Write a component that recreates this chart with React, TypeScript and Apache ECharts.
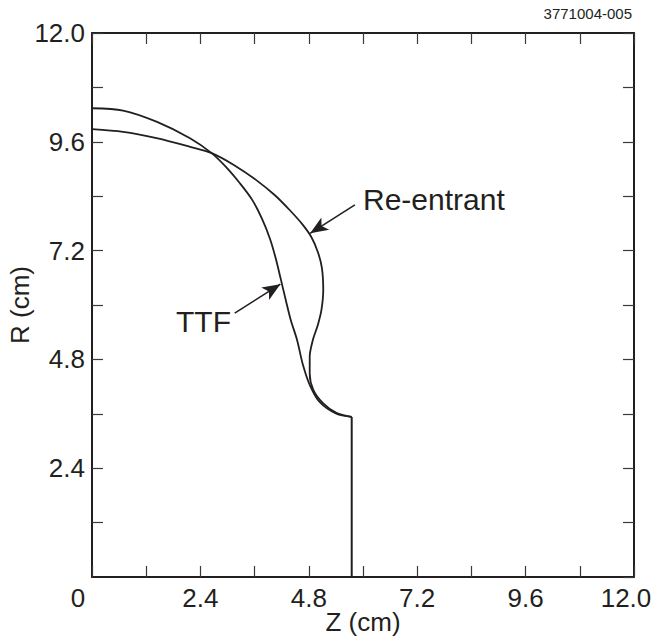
import React, { useEffect, useRef } from "react";
import * as echarts from "echarts";

const ttfZ = [0, 0.69, 1.44, 2.17, 2.65, 2.97, 3.27, 3.54, 3.76, 3.94, 4.07, 4.18, 4.29, 4.4, 4.54, 4.67, 4.82, 5.04, 5.41, 5.75];
const ttfR = [10.34, 10.29, 10.04, 9.68, 9.35, 9.04, 8.69, 8.33, 7.91, 7.46, 7.02, 6.57, 6.11, 5.67, 5.23, 4.68, 4.24, 3.86, 3.6, 3.53];

const reZ = [0, 0.69, 1.43, 2.17, 2.65, 3.14, 3.63, 4.05, 4.38, 4.65, 4.85, 5.0, 5.09, 5.12, 5.08, 5.0, 4.89, 4.82, 4.82, 4.9, 5.12, 5.41, 5.75];
const reR = [9.88, 9.82, 9.68, 9.49, 9.35, 9.09, 8.76, 8.42, 8.09, 7.79, 7.51, 7.17, 6.82, 6.33, 5.89, 5.56, 5.23, 4.86, 4.49, 4.13, 3.83, 3.62, 3.53];

const stemZ = [5.75, 5.75];
const stemR = [3.53, 0];

const axisMin = 0;
const axisMax = 12;
const tickStep = 1.2;

const reArrow = [[5.82, 8.21], [4.83, 7.58]];
const ttfArrow = [[3.16, 5.82], [4.17, 6.46]];

const INK = "#231f20";
const FONT = "Liberation Sans, Arial, sans-serif";

function zip(a: number[], b: number[]) {
  return a.map((v, i) => [v, b[i]]);
}

function fmt(v: number) {
  const r = Math.round(v * 10) / 10;
  const k = Math.round(r / tickStep);
  if (k % 2 !== 0) return "";
  if (r === 0) return "{zero|0}";
  if (r === axisMax) return "{last|" + r.toFixed(1) + "}";
  return r.toFixed(1);
}

export default function App() {
  const ref = useRef<HTMLDivElement>(null);
  useEffect(() => {
    if (!ref.current) return;
    const chart = echarts.init(ref.current, undefined, { renderer: "svg" });
    const tick = { show: true, inside: true, length: 11, interval: 0, lineStyle: { color: "#3a3a3a", width: 1.2 } };
    const baseAxis = {
      type: "value" as const,
      min: axisMin,
      max: axisMax,
      interval: tickStep,
      splitLine: { show: false },
      axisLine: { show: true, onZero: false, lineStyle: { color: INK, width: 2 } },
      axisTick: tick,
    };
    const labelStyle = { color: INK, fontFamily: FONT, fontSize: 26 };
    const arrowLine = (pts: number[][]) => ({
      silent: true,
      symbol: ["none", "arrow"],
      symbolSize: [11, 18],
      lineStyle: { color: INK, width: 1.6, type: "solid" as const },
      label: { show: false },
      data: [[{ coord: pts[0] }, { coord: pts[1] }]],
    });
    const curveStyle = { color: INK, width: 1.8 };
    chart.setOption({
      animation: false,
      backgroundColor: "#ffffff",
      grid: { left: 92, right: 18, top: 33, bottom: 60, containLabel: false, outerBoundsMode: "none" },
      xAxis: [
        {
          ...baseAxis,
          position: "bottom",
          name: "Z (cm)",
          nameLocation: "middle",
          nameGap: 32,
          nameMoveOverlap: false,
          nameTextStyle: { ...labelStyle },
          axisLabel: {
            ...labelStyle,
            margin: 8,
            showMinLabel: true,
            showMaxLabel: true,
            hideOverlap: false,
            formatter: fmt,
            rich: {
              zero: { ...labelStyle, padding: [0, 28, 0, 0] },
              last: { ...labelStyle, padding: [0, 16, 0, 0] },
            },
          },
        },
        {
          ...baseAxis,
          position: "top",
          axisLabel: { show: false },
        },
      ],
      yAxis: [
        {
          ...baseAxis,
          position: "left",
          name: "R (cm)",
          nameLocation: "middle",
          nameGap: 59,
          nameMoveOverlap: false,
          nameTextStyle: { ...labelStyle },
          axisLabel: {
            ...labelStyle,
            margin: 7,
            showMinLabel: false,
            showMaxLabel: true,
            formatter: (v: number) => {
              const r = Math.round(v * 10) / 10;
              const k = Math.round(r / tickStep);
              if (k % 2 !== 0 || r === 0) return "";
              return r.toFixed(1);
            },
          },
        },
        {
          ...baseAxis,
          position: "right",
          axisLabel: { show: false },
        },
      ],
      series: [
        {
          name: "TTF",
          type: "line",
          data: zip(ttfZ, ttfR),
          smooth: 0.3,
          showSymbol: false,
          symbol: "none",
          lineStyle: curveStyle,
          markLine: arrowLine(ttfArrow),
        },
        {
          name: "Re-entrant",
          type: "line",
          data: zip(reZ, reR),
          smooth: 0.3,
          showSymbol: false,
          symbol: "none",
          lineStyle: curveStyle,
          markLine: arrowLine(reArrow),
        },
        {
          name: "stem",
          type: "line",
          data: zip(stemZ, stemR),
          showSymbol: false,
          symbol: "none",
          lineStyle: { color: INK, width: 2 },
        },
      ],
      graphic: [
        {
          type: "text",
          left: 363,
          top: 184,
          style: { text: "Re-entrant", fill: INK, font: `30px ${FONT}` },
        },
        {
          type: "text",
          left: 176,
          top: 306,
          style: { text: "TTF", fill: INK, font: `30px ${FONT}` },
        },
        {
          type: "text",
          right: 20,
          top: 6,
          style: { text: "3771004-005", fill: INK, font: `15px ${FONT}` },
        },
      ],
    });
    return () => chart.dispose();
  }, []);
  return (
    <div
      ref={ref}
      style={{ position: "fixed", left: 0, top: 0, width: 652, height: 637, background: "#fff" }}
    />
  );
}
